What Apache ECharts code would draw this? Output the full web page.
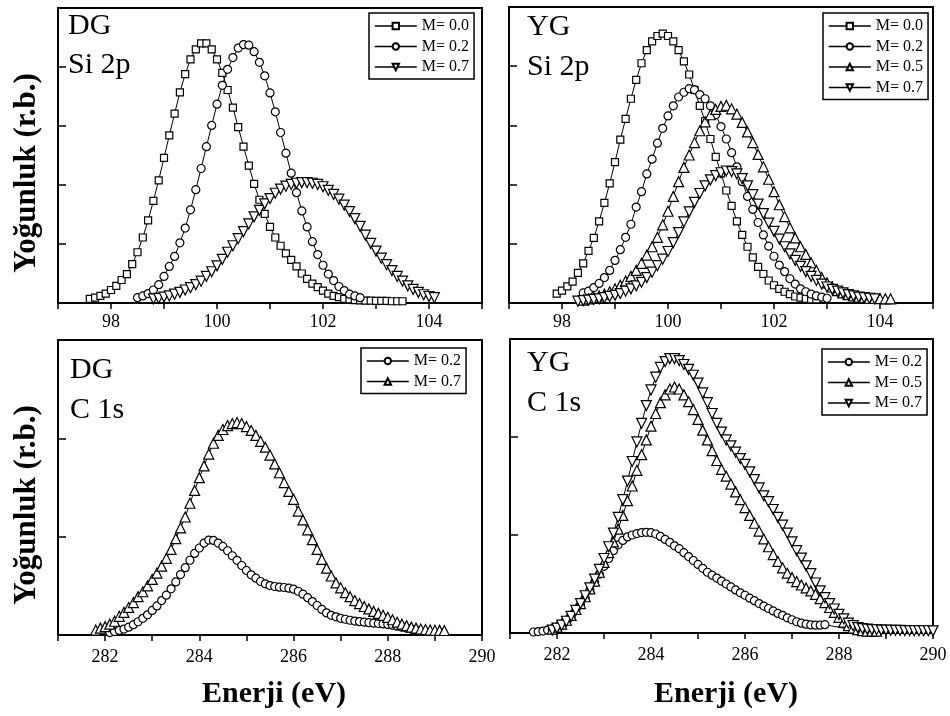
<!DOCTYPE html>
<html><head><meta charset="utf-8">
<script src="https://cdn.jsdelivr.net/npm/echarts@6/dist/echarts.min.js"></script>
<style>html,body{margin:0;padding:0;background:#fff}#c{width:950px;height:716px}</style>
</head><body><div id="c"></div><script>
// ---- Data (x step 0.1 eV from the given start) ----
const dgSi_M00_x0 = 97.6;
const dgSi_M00 = [0.07,0.09,0.12,0.16,0.22,0.29,0.39,0.49,0.66,0.86,
  1.11,1.40,1.73,2.08,2.46,2.84,3.21,3.57,3.88,4.13,
  4.30,4.40,4.40,4.30,4.13,3.90,3.61,3.31,2.98,2.65,
  2.33,2.02,1.75,1.51,1.29,1.11,0.97,0.84,0.73,0.62,
  0.50,0.41,0.33,0.27,0.21,0.16,0.12,0.10,0.07,0.06,
  0.05,0.045,0.04,0.04,0.035,0.035,0.035,0.03,0.03,0.03];
const dgSi_M02_x0 = 98.5;
const dgSi_M02 = [0.09,0.12,0.16,0.22,0.31,0.45,0.62,0.79,1.02,1.27,
  1.58,1.92,2.28,2.65,3.01,3.37,3.69,3.96,4.16,4.32,
  4.38,4.37,4.26,4.08,3.85,3.56,3.24,2.89,2.54,2.20,
  1.87,1.56,1.29,1.04,0.82,0.64,0.49,0.38,0.28,0.21,
  0.15,0.12,0.09];
const dgSi_M07_x0 = 98.8;
const dgSi_M07 = [0.07,0.08,0.10,0.12,0.15,0.18,0.22,0.26,0.31,0.37,
  0.45,0.53,0.63,0.74,0.86,0.97,1.09,1.21,1.34,1.46,
  1.57,1.68,1.77,1.86,1.93,1.98,2.01,2.03,2.04,2.04,
  2.03,2.01,1.97,1.91,1.84,1.76,1.66,1.55,1.43,1.30,
  1.15,1.01,0.88,0.76,0.65,0.55,0.45,0.37,0.29,0.23,
  0.18,0.14,0.11,0.09];

const ygSi_M00_x0 = 97.9;
const ygSi_M00 = [0.16,0.21,0.28,0.36,0.51,0.67,0.88,1.10,1.38,1.69,
  2.02,2.38,2.76,3.11,3.45,3.77,4.05,4.27,4.42,4.51,
  4.55,4.51,4.42,4.27,4.08,3.86,3.60,3.33,3.07,2.77,
  2.47,2.19,1.90,1.64,1.38,1.15,0.95,0.77,0.61,0.49,
  0.38,0.30,0.24,0.19,0.15,0.11,0.09,0.07,0.06,0.06];
const ygSi_M02_x0 = 98.4;
const ygSi_M02 = [0.17,0.20,0.26,0.33,0.43,0.55,0.72,0.90,1.11,1.33,
  1.62,1.88,2.18,2.43,2.70,2.95,3.16,3.33,3.48,3.56,
  3.62,3.60,3.52,3.45,3.33,3.18,2.98,2.77,2.54,2.30,
  2.05,1.80,1.58,1.36,1.15,0.96,0.79,0.64,0.53,0.41,
  0.32,0.24,0.19,0.15,0.12,0.10,0.08];
const ygSi_M05_x0 = 98.4;
const ygSi_M05 = [0.05,0.07,0.09,0.12,0.15,0.19,0.24,0.30,0.37,0.45,
  0.55,0.67,0.81,0.95,1.11,1.32,1.55,1.80,2.05,2.29,
  2.50,2.71,2.91,3.06,3.18,3.27,3.32,3.34,3.28,3.19,
  3.05,2.89,2.71,2.51,2.30,2.09,1.88,1.66,1.46,1.27,
  1.10,0.95,0.82,0.68,0.55,0.43,0.34,0.27,0.21,0.17,
  0.14,0.12,0.10,0.09,0.08,0.08,0.075,0.07,0.07];
const ygSi_M07_x0 = 98.3;
const ygSi_M07 = [0.03,0.04,0.05,0.06,0.07,0.09,0.11,0.13,0.16,0.20,
  0.24,0.29,0.35,0.43,0.52,0.63,0.74,0.87,1.02,1.19,
  1.37,1.54,1.70,1.85,1.98,2.08,2.15,2.20,2.23,2.22,
  2.18,2.10,1.98,1.83,1.67,1.51,1.35,1.21,1.08,0.95,
  0.83,0.72,0.62,0.53,0.45,0.38,0.32,0.27,0.23,0.20,
  0.17,0.14,0.12,0.10,0.09,0.08,0.07];

const dgC_M02_x0 = 282.1;
const dgC_M02 = [0.025,0.035,0.048,0.06,0.08,0.105,0.135,0.17,0.205,0.25,
  0.296,0.35,0.405,0.47,0.54,0.615,0.685,0.76,0.83,0.885,
  0.935,0.965,0.962,0.935,0.901,0.857,0.806,0.759,0.707,0.656,
  0.612,0.578,0.544,0.52,0.503,0.493,0.486,0.483,0.476,0.466,
  0.445,0.415,0.38,0.34,0.30,0.26,0.225,0.20,0.185,0.17,
  0.16,0.15,0.142,0.136,0.13,0.125,0.12,0.117,0.113,0.108,
  0.10,0.09,0.08,0.07,0.06,0.05];
const dgC_M07_x0 = 281.8;
const dgC_M07 = [0.05,0.07,0.085,0.11,0.14,0.19,0.23,0.28,0.33,0.39,
  0.44,0.50,0.565,0.63,0.70,0.78,0.87,0.98,1.09,1.20,
  1.34,1.47,1.60,1.72,1.84,1.95,2.03,2.09,2.13,2.15,
  2.16,2.15,2.12,2.08,2.03,1.97,1.91,1.83,1.74,1.65,
  1.55,1.46,1.38,1.26,1.17,1.07,0.97,0.87,0.77,0.68,
  0.60,0.53,0.48,0.43,0.39,0.35,0.32,0.29,0.265,0.24,
  0.22,0.20,0.18,0.155,0.13,0.11,0.095,0.08,0.07,0.06,
  0.055,0.05,0.048,0.047,0.046];

const ygC_M02_x0 = 281.5;
const ygC_M02 = [0.01,0.015,0.02,0.03,0.04,
  0.06,0.085,0.12,0.17,0.23,0.29,0.36,0.44,0.52,0.60,
  0.68,0.76,0.84,0.90,0.945,0.98,1.00,1.015,1.025,1.027,
  1.024,1.01,0.985,0.955,0.925,0.89,0.86,0.82,0.78,0.74,
  0.70,0.66,0.62,0.59,0.56,0.53,0.50,0.47,0.44,0.41,
  0.385,0.355,0.33,0.30,0.275,0.25,0.225,0.20,0.18,0.155,
  0.135,0.115,0.10,0.09,0.082,0.08,0.08,0.085];
const ygC_M02_end = [288.6, 0.005];
const ygC_M05_x0 = 281.9;
const ygC_M05 = [0.04,
  0.06,0.09,0.13,0.18,0.24,0.30,0.37,0.45,0.53,0.62,
  0.72,0.82,0.93,1.06,1.20,1.35,1.50,1.66,1.82,1.97,
  2.11,2.24,2.35,2.43,2.49,2.51,2.49,2.43,2.36,2.28,
  2.18,2.07,1.97,1.86,1.76,1.67,1.60,1.52,1.44,1.36,
  1.28,1.20,1.12,1.04,0.96,0.88,0.80,0.73,0.665,0.61,
  0.565,0.525,0.49,0.46,0.43,0.395,0.35,0.31,0.26,0.21,
  0.16,0.11,0.075,0.05,0.035,0.025,0.02,0.02,0.02];
const ygC_M07_x0 = 281.9;
const ygC_M07 = [0.03,
  0.05,0.08,0.12,0.17,0.23,0.30,0.38,0.46,0.55,0.65,
  0.76,0.88,1.02,1.18,1.36,1.55,1.75,1.95,2.14,2.32,
  2.48,2.61,2.71,2.77,2.80,2.80,2.78,2.74,2.69,2.63,
  2.55,2.45,2.35,2.24,2.14,2.05,1.97,1.91,1.845,1.78,
  1.72,1.645,1.565,1.48,1.40,1.34,1.26,1.18,1.10,1.02,
  0.93,0.84,0.765,0.685,0.605,0.51,0.43,0.36,0.30,0.245,
  0.19,0.145,0.10,0.075,0.055,0.045,0.04,0.035,0.033,0.03,
  0.03,0.028,0.027,0.026,0.025,0.025,0.024,0.024,0.023,0.023,
  0.022];

const legendLabels = {
  'tl0':'M= 0.0','tl2':'M= 0.2','tl7':'M= 0.7',
  'tr0':'M= 0.0','tr2':'M= 0.2','tr5':'M= 0.5','tr7':'M= 0.7',
  'bl2':'M= 0.2','bl7':'M= 0.7',
  'br2':'M= 0.2','br5':'M= 0.5','br7':'M= 0.7'
};
const panelTags = [['DG','Si 2p'],['YG','Si 2p'],['DG','C 1s'],['YG','C 1s']];
const yTitle = 'Yoğunluk (r.b.)';
const xTitle = 'Enerji (eV)';
const topTicks = [97, 105];
const botTicks = [281, 290];

// ---- Build ----
const FONT = '"Liberation Serif", "Times New Roman", serif';
function pts(x0, ys) { return ys.map((y, i) => [Math.round((x0 + i * 0.1) * 100) / 100, y]); }
function ser(name, gi, data, symbol, size, rot) {
  return {
    type: 'line', name: name, xAxisIndex: gi, yAxisIndex: gi, data: data,
    symbol: symbol, symbolSize: size, symbolRotate: rot || 0,
    lineStyle: { color: '#000', width: 1 },
    itemStyle: { color: '#fff', borderColor: '#000', borderWidth: 1.2 },
    emphasis: { disabled: true }, animation: false, clip: false
  };
}
const grids = [
  { left: 58, top: 8, width: 424, height: 295 },
  { left: 509, top: 7, width: 424, height: 296 },
  { left: 58, top: 340, width: 424, height: 295 },
  { left: 510, top: 339, width: 423, height: 294 }
].map(g => Object.assign(g, { show: true, borderColor: '#000', borderWidth: 2, backgroundColor: 'transparent' }));

function xAx(gi, rng, margin) {
  return {
    type: 'value', gridIndex: gi, min: rng[0], max: rng[1], interval: 1,
    axisLine: { lineStyle: { color: '#000', width: 2 } },
    axisTick: { inside: false, length: 6, lineStyle: { color: '#000', width: 1.5 } },
    axisLabel: { color: '#000', fontFamily: FONT, fontSize: 18, margin: margin, showMaxLabel: true, showMinLabel: true,
      formatter: v => (v % 2 === 0 ? String(v) : '') },
    splitLine: { show: false }
  };
}
function yAx(gi, mx) {
  return {
    type: 'value', gridIndex: gi, min: 0, max: mx, interval: 1,
    axisLine: { lineStyle: { color: '#000', width: 2 } },
    axisTick: { inside: true, length: 8, lineStyle: { color: '#000', width: 1.5 } },
    axisLabel: { show: false }, splitLine: { show: false }
  };
}
const series = [
  ser('tl0', 0, pts(dgSi_M00_x0, dgSi_M00), 'rect', 7),
  ser('tl2', 0, pts(dgSi_M02_x0, dgSi_M02), 'circle', 8),
  ser('tl7', 0, pts(dgSi_M07_x0, dgSi_M07), 'triangle', 10, 180),
  ser('tr0', 1, pts(ygSi_M00_x0, ygSi_M00), 'rect', 7),
  ser('tr2', 1, pts(ygSi_M02_x0, ygSi_M02), 'circle', 8),
  ser('tr5', 1, pts(ygSi_M05_x0, ygSi_M05), 'triangle', 10),
  ser('tr7', 1, pts(ygSi_M07_x0, ygSi_M07), 'triangle', 10, 180),
  ser('bl2', 2, pts(dgC_M02_x0, dgC_M02), 'circle', 8),
  ser('bl7', 2, pts(dgC_M07_x0, dgC_M07), 'triangle', 10),
  ser('br2', 3, pts(ygC_M02_x0, ygC_M02).concat([{ value: ygC_M02_end, symbol: 'none' }]), 'circle', 8),
  ser('br5', 3, pts(ygC_M05_x0, ygC_M05), 'triangle', 10),
  ser('br7', 3, pts(ygC_M07_x0, ygC_M07), 'triangle', 10, 180)
];
function leg(names, left, top) {
  return {
    data: names, left: left, top: top, orient: 'vertical', itemGap: 4.5, itemWidth: 42, itemHeight: 8,
    padding: [5, 5, 4, 5], borderColor: '#000', borderWidth: 1.5, backgroundColor: '#fff',
    selectedMode: false, formatter: n => legendLabels[n],
    lineStyle: { width: 1.6 },
    textStyle: { color: '#000', fontFamily: FONT, fontSize: 16, lineHeight: 16 }
  };
}
function tag(text, x, y) {
  return { type: 'text', x: x, y: y, z: 100, style: { text: text, fill: '#000', font: '30px ' + FONT, textAlign: 'left', textVerticalAlign: 'middle', verticalAlign: 'middle' } };
}
function title(text, x, y, rot, size) {
  return { type: 'text', x: x, y: y, rotation: rot, z: 100, style: { text: text, fill: '#000', font: 'bold ' + size + 'px ' + FONT, textAlign: 'center', align: 'center', textVerticalAlign: 'middle', verticalAlign: 'middle' } };
}
const graphics = [
  tag(panelTags[0][0], 68, 26), tag(panelTags[0][1], 68, 65),
  tag(panelTags[1][0], 527, 27), tag(panelTags[1][1], 527, 67),
  tag(panelTags[2][0], 70, 370), tag(panelTags[2][1], 70, 410),
  tag(panelTags[3][0], 527, 363), tag(panelTags[3][1], 527, 403),
  title(yTitle, 27, 173, Math.PI / 2, 31),
  title(yTitle, 27, 505, Math.PI / 2, 31),
  title(xTitle, 274, 694, 0, 30),
  title(xTitle, 726, 694, 0, 30)
];
const chart = echarts.init(document.getElementById('c'), null, { renderer: 'canvas' });
chart.setOption({
  animation: false,
  backgroundColor: '#fff',
  grid: grids,
  xAxis: [xAx(0, topTicks, 10), xAx(1, topTicks, 10), xAx(2, botTicks, 13), xAx(3, botTicks, 13)],
  yAxis: [yAx(0, 5), yAx(1, 5), yAx(2, 3), yAx(3, 3)],
  legend: [
    leg(['tl0', 'tl2', 'tl7'], 369, 13),
    leg(['tr0', 'tr2', 'tr5', 'tr7'], 823, 13),
    leg(['bl2', 'bl7'], 361, 348),
    leg(['br2', 'br5', 'br7'], 822, 349)
  ],
  series: series,
  graphic: graphics
});
</script></body></html>
